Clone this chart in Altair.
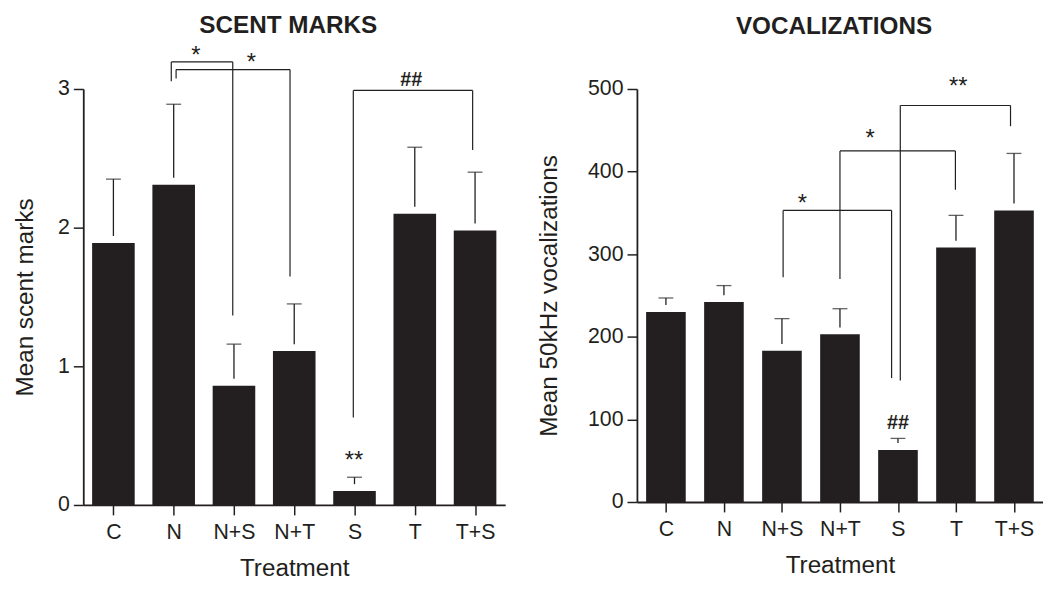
import json
import altair as alt
import pandas as pd

INK = "#231f20"
FONT = "Liberation Sans"

categories = ["C", "N", "N+S", "N+T", "S", "T", "T+S"]

# Scent marks (mean and top of the error bar)
scent_mean = [1.89, 2.31, 0.86, 1.11, 0.10, 2.10, 1.98]
scent_upper = [2.35, 2.89, 1.16, 1.45, 0.20, 2.58, 2.40]

# 50 kHz vocalizations (mean and top of the error bar)
voc_mean = [230, 242, 183, 203, 63, 308, 353]
voc_upper = [247, 262, 222, 234, 77, 347, 422]

# Significance brackets: left category, its offset, right category, its offset,
# bracket height, bottom of left leg, bottom of right leg
scent_br_left = ["N", "N", "S"]
scent_br_left_off = [-0.04, 0.04, -0.02]
scent_br_right = ["N+S", "N+T", "T+S"]
scent_br_right_off = [-0.02, -0.07, -0.04]
scent_br_top = [3.195, 3.14, 2.99]
scent_br_left_bottom = [3.055, 3.076, 0.63]
scent_br_right_bottom = [1.366, 1.647, 2.56]
scent_lab_text = ["*", "*", "##", "**"]
scent_lab_cat = ["N", "N+S", "T", "S"]
scent_lab_off = [0.37, 0.29, -0.06, -0.01]
scent_lab_y = [3.28, 3.23, 3.07, 0.36]

voc_br_left = ["N+S", "N+T", "S"]
voc_br_left_off = [0.02, 0.0, 0.04]
voc_br_right = ["S", "T", "T+S"]
voc_br_right_off = [-0.11, -0.01, -0.06]
voc_br_top = [353, 425, 480]
voc_br_left_bottom = [272, 270, 147]
voc_br_right_bottom = [150, 378, 455]
voc_lab_text = ["*", "*", "**", "##"]
voc_lab_cat = ["N+S", "N+T", "T", "S"]
voc_lab_off = [0.35, 0.52, 0.04, 0.0]
voc_lab_y = [368, 446, 509, 97]


def cpos(cat, off):
    return categories.index(cat) + 0.5 + off


def panel(title, y_title, means, uppers, y_max, y_ticks, br, labs,
          width, height, bar_size, y_title_pad, title_offset):
    n = len(categories)
    pos = [i + 0.5 for i in range(n)]
    df = pd.DataFrame({"pos": pos, "cat": categories, "mean": means, "upper": uppers})

    xs = alt.Scale(domain=[0, n], nice=False, zero=False, padding=0)
    ys = alt.Scale(domain=[0, y_max], nice=False)
    label_expr = json.dumps(categories) + "[floor(datum.value)]"
    xaxis = alt.Axis(values=pos, labelExpr=label_expr, title="Treatment",
                     tickSize=10, labelPadding=7, titlePadding=14,
                     labelFontSize=21.5, titleFontSize=24.5)
    yaxis = alt.Axis(values=y_ticks, format="d", title=y_title, tickSize=10,
                     labelPadding=4, titlePadding=y_title_pad,
                     labelFontSize=21.5, titleFontSize=24.5)

    base = alt.Chart(df)
    bars = base.mark_bar(size=bar_size, color=INK, orient="vertical").encode(
        x=alt.X("pos:Q", scale=xs, axis=xaxis),
        y=alt.Y("mean:Q", scale=ys, axis=yaxis, stack=None),
    )
    stems = base.mark_rule(color=INK, strokeWidth=1.3, y2Offset=-7).encode(
        x="pos:Q", y="upper:Q", y2="mean:Q")
    caps = base.mark_tick(orient="horizontal", size=15, thickness=1.3, color=INK).encode(
        x="pos:Q", y="upper:Q")

    (bl, blo, bro_c, bro, bt, blb, brb) = br
    segs = []
    for i in range(len(bl)):
        xl = cpos(bl[i], blo[i])
        xr = cpos(bro_c[i], bro[i])
        segs.append({"x": xl, "x2": xr, "y": bt[i], "y2": bt[i]})
        segs.append({"x": xl, "x2": xl, "y": blb[i], "y2": bt[i]})
        segs.append({"x": xr, "x2": xr, "y": brb[i], "y2": bt[i]})
    seg_df = pd.DataFrame(segs)
    brackets = alt.Chart(seg_df).mark_rule(color=INK, strokeWidth=1.2).encode(
        x="x:Q", x2="x2:Q", y="y:Q", y2="y2:Q")

    (lt, lc, lo, ly) = labs
    lab_df = pd.DataFrame({
        "t": lt,
        "x": [cpos(c, o) for c, o in zip(lc, lo)],
        "y": ly,
    })
    stars = alt.Chart(lab_df).transform_filter("indexof(datum.t, '*') >= 0").mark_text(
        fontSize=24, color=INK, baseline="middle", dy=6).encode(
        x="x:Q", y="y:Q", text="t:N")
    hashes = alt.Chart(lab_df).transform_filter("indexof(datum.t, '#') >= 0").mark_text(
        fontSize=20, color=INK, baseline="middle", dy=1, fontWeight="bold").encode(
        x="x:Q", y="y:Q", text="t:N")

    return alt.layer(bars, stems, caps, brackets, stars, hashes).properties(
        width=width, height=height,
        title=alt.TitleParams(title, fontSize=24.5, fontWeight="bold", color=INK,
                              font=FONT, dx=-6, offset=title_offset),
    )


left = panel(
    "SCENT MARKS", "Mean scent marks", scent_mean, scent_upper, 3, [0, 1, 2, 3],
    (scent_br_left, scent_br_left_off, scent_br_right, scent_br_right_off,
     scent_br_top, scent_br_left_bottom, scent_br_right_bottom),
    (scent_lab_text, scent_lab_cat, scent_lab_off, scent_lab_y),
    426, 420, 43, 20, 6,
)
right = panel(
    "VOCALIZATIONS", "Mean 50kHz vocalizations", voc_mean, voc_upper, 500,
    [0, 100, 200, 300, 400, 500],
    (voc_br_left, voc_br_left_off, voc_br_right, voc_br_right_off,
     voc_br_top, voc_br_left_bottom, voc_br_right_bottom),
    (voc_lab_text, voc_lab_cat, voc_lab_off, voc_lab_y),
    410, 417, 40, 26, 37,
)

chart = alt.hconcat(left, right, spacing=32).properties(
    padding={"left": 5, "top": 2, "right": 0, "bottom": 0}
).configure(
    font=FONT,
).configure_view(
    stroke=None,
).configure_axis(
    grid=False,
    domainColor=INK,
    domainWidth=1.8,
    tickColor=INK,
    tickWidth=1.5,
    labelColor=INK,
    titleColor=INK,
    labelFont=FONT,
    titleFont=FONT,
    titleFontWeight="normal",
)

chart.save("out.html", embed_options={"renderer": "svg", "actions": False})
